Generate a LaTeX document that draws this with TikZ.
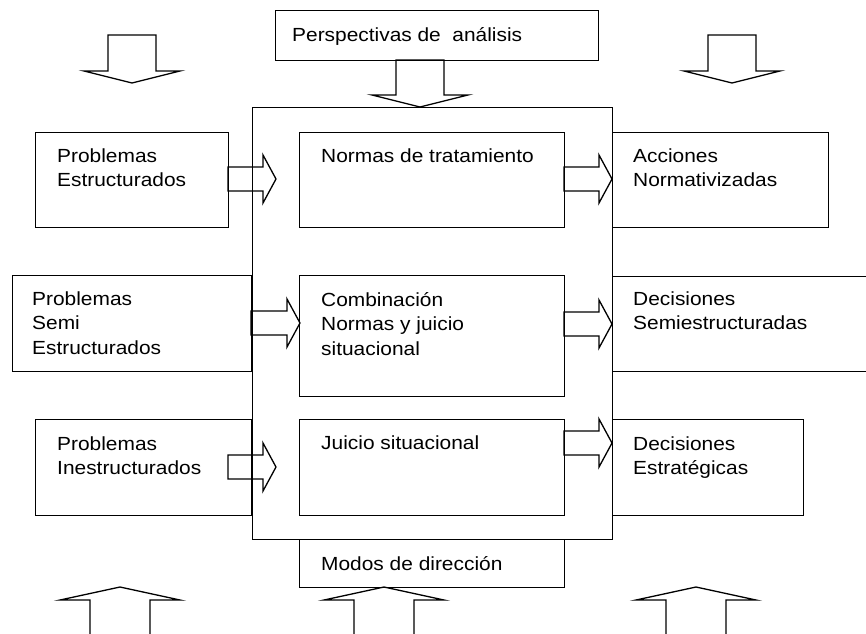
\documentclass[tikz,border=0pt]{standalone}
\usepackage{fontspec}
\setmainfont[FakeStretch=1.1]{Liberation Sans}
\newcommand\twol[2]{\vtop{\baselineskip=24.5pt\hbox{#1}\hbox{#2}}}
\newcommand\threel[3]{\vtop{\baselineskip=24.5pt\hbox{#1}\hbox{#2}\hbox{#3}}}
\newcommand\blkR[3]{\draw[blk] (#1,#2-12) -- (#3-13,#2-12) -- (#3-13,#2-24) -- (#3,#2) -- (#3-13,#2+24) -- (#3-13,#2+12) -- (#1,#2+12) -- cycle;}
\newcommand\blkD[3]{\draw[blk] (#1-24,#2) -- (#1+24,#2) -- (#1+24,#3-12) -- (#1+48,#3-12) -- (#1,#3) -- (#1-48,#3-12) -- (#1-24,#3-12) -- cycle;}
\newcommand\blkU[2]{\draw[blk] (#1-30,640) -- (#1-30,#2+13) -- (#1-60,#2+13) -- (#1,#2) -- (#1+60,#2+13) -- (#1+30,#2+13) -- (#1+30,640);}
\begin{document}
\begin{tikzpicture}[x=1pt,y=-1pt,
  box/.style={draw=black,line width=1.3pt,inner sep=0pt,anchor=north west},
  txt/.style={anchor=base west,inner sep=0pt,font=\fontsize{19}{24.5}\selectfont},
  blk/.style={draw=black,line width=1.3pt,line join=miter}]
\useasboundingbox (0,0) rectangle (866,633);
% central frame
\node[box,minimum width=360,minimum height=432] (big) at (252,107) {};
% top box
\node[box,minimum width=323,minimum height=50] (persp) at (275,10) {};
\node[txt] (tpersp) at (292,41) {Perspectivas de~ análisis};
% left column
\node[box,minimum width=193,minimum height=95] (l1) at (35,132) {};
\node[txt] (tl1) at (57,162) {\twol{Problemas}{Estructurados}};
\node[box,minimum width=239,minimum height=96] (l2) at (12,275) {};
\node[txt] (tl2) at (32,305) {\threel{Problemas}{Semi}{Estructurados}};
\node[box,minimum width=216,minimum height=96] (l3) at (35,419) {};
\node[txt] (tl3) at (57,450) {\twol{Problemas}{Inestructurados}};
% middle column
\node[box,minimum width=265,minimum height=95] (m1) at (299,132) {};
\node[txt] (tm1) at (321,162) {Normas de tratamiento};
\node[box,minimum width=265,minimum height=121] (m2) at (299,275) {};
\node[txt] (tm2) at (321,306) {\threel{Combinación}{Normas y juicio}{situacional}};
\node[box,minimum width=265,minimum height=96] (m3) at (299,419) {};
\node[txt] (tm3) at (321,449) {Juicio situacional};
\node[box,minimum width=265,minimum height=48] (modos) at (299,539) {};
\node[txt] (tmodos) at (321,570) {Modos de dirección};
% right column
\node[box,minimum width=216,minimum height=95] (r1) at (612,132) {};
\node[txt] (tr1) at (633,162) {\twol{Acciones}{Normativizadas}};
\node[box,minimum width=262,minimum height=95] (r2) at (612,276) {};
\node[txt] (tr2) at (633,305) {\twol{Decisiones}{Semiestructuradas}};
\node[box,minimum width=191,minimum height=96] (r3) at (612,419) {};
\node[txt] (tr3) at (633,450) {\twol{Decisiones}{Estratégicas}};
% block arrows right
\blkR{228}{179}{276}
\blkR{564}{179}{612}
\blkR{251}{323}{300}
\blkR{564}{324}{612}
\blkR{228}{467}{276}
\blkR{564}{443}{612}
% block arrows down
\blkD{132}{35}{83}
\blkD{732}{35}{83}
\blkD{420}{60}{107}
% block arrows up
\blkU{120}{587}
\blkU{384}{587}
\blkU{696}{587}
\end{tikzpicture}
\end{document}
